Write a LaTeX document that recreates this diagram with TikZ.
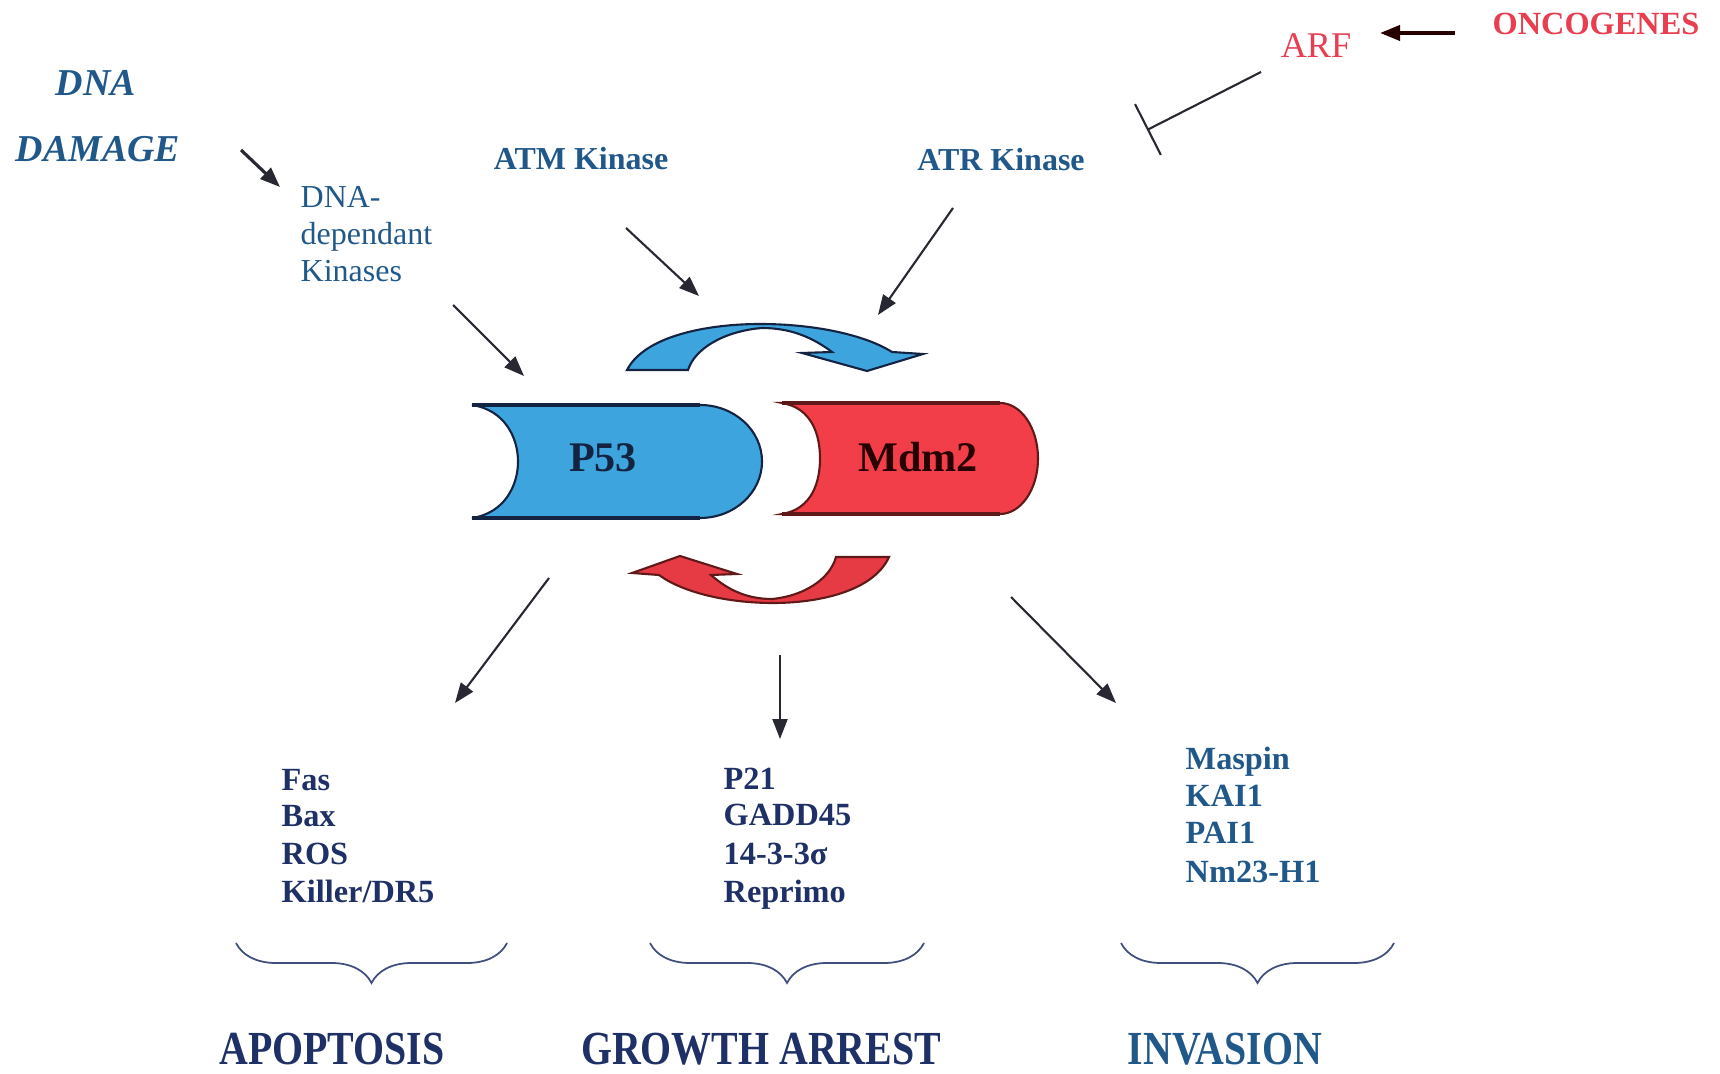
\documentclass[tikz,border=0pt]{standalone}
\usepackage{fontspec}
\setmainfont{Liberation Serif}
\newfontfamily\condfont[FakeStretch=0.84]{Liberation Serif}
\usetikzlibrary{arrows.meta,decorations.pathreplacing}

\definecolor{labblue}{RGB}{32,88,138}
\definecolor{navy}{RGB}{30,48,102}
\definecolor{arfred}{RGB}{232,62,80}
\definecolor{pblue}{RGB}{62,164,222}
\definecolor{mred}{RGB}{242,62,72}
\definecolor{pedge}{RGB}{20,35,65}
\definecolor{medge}{RGB}{95,25,25}
\definecolor{sigline}{RGB}{40,40,50}

\begin{document}
\begin{tikzpicture}[
      x=0.1mm, y=-0.1mm,
      lab/.style={text=labblue, inner sep=0pt, anchor=base,
                  font=\fontsize{9.1}{11}\selectfont\bfseries},
      dep/.style={text=labblue, inner sep=0pt, anchor=base west,
                  font=\fontsize{9.1}{11}\selectfont},
      gene/.style={text=navy, inner sep=0pt, anchor=base west,
                   font=\fontsize{9.2}{11}\selectfont\bfseries},
      fate/.style={text=navy, inner sep=0pt, anchor=base,
                   font=\condfont\fontsize{13.5}{15}\selectfont\bfseries},
      prot/.style={inner sep=0pt, anchor=base,
                   font=\fontsize{12}{14}\selectfont\bfseries},
      sig/.style={->, draw=sigline, line width=0.6pt},
      brc/.style={draw=navy!85, line width=0.5pt, decorate,
                  decoration={brace, amplitude=4mm}},
      >={Triangle[length=2mm,width=1.5mm]}
    ]
    \useasboundingbox (0,0) rectangle (1720,1074);

    % upstream signals
    \node[lab, font=\fontsize{10.8}{13}\selectfont\bfseries\itshape] (dna) at (96,96) {DNA};
    \node[lab, font=\fontsize{10.8}{13}\selectfont\bfseries\itshape] (damage) at (98,162) {DAMAGE};
    \foreach \t/\y [count=\i] in {DNA-/208, dependant/245, Kinases/282}
      \node[dep] (dep\i) at (300,\y) {\t};
    \node[lab] (atm) at (581,170) {ATM Kinase};
    \node[lab] (atr) at (1001,171) {ATR Kinase};
    \node[anchor=base, inner sep=0pt, text=arfred,
          font=\fontsize{10.3}{12}\selectfont] (arf) at (1316,58) {ARF};
    \node[anchor=base, inner sep=0pt, text=arfred,
          font=\fontsize{9.2}{11}\selectfont\bfseries] (onc) at (1596,35) {ONCOGENES};

    % p53 and mdm2
    \filldraw[fill=pblue, draw=pedge, line width=0.6pt] (472,405) -- (700,405)
      arc[start angle=90, end angle=-90, x radius=6.2mm, y radius=5.65mm] -- (472,518)
      .. controls (505,513) and (518,485) .. (518,461.5)
      .. controls (518,438) and (505,410) .. (472,405) -- cycle;
    \draw[pedge, line width=1pt] (472,405) -- (700,405) (472,518) -- (700,518);
    \filldraw[fill=mred, draw=medge, line width=0.6pt] (782,403) -- (1000,403)
      arc[start angle=90, end angle=-90, x radius=3.8mm, y radius=5.55mm] -- (782,514)
      .. controls (812,509) and (820,482) .. (820,458.5)
      .. controls (820,435) and (812,408) .. (782,403) -- cycle;
    \draw[medge, line width=1pt] (782,403) -- (1000,403) (782,514) -- (1000,514);
    \node[prot, text=pedge] (p53) at (603,472) {P53};
    \node[prot, text=black!85!red] (mdm2) at (918,472) {Mdm2};

    % feedback loop
    \filldraw[fill=pblue, draw=pedge, line width=0.6pt]
      (627,370) .. controls (645,335) and (710,324) .. (760,324)
      .. controls (815,324) and (865,335) .. (892,352)
      -- (923,354) -- (867,371) -- (802,353) -- (832,352)
      .. controls (812,337) and (790,328) .. (762,328)
      .. controls (725,331) and (695,348) .. (688,370) -- cycle;
    \filldraw[fill=mred!95!black, draw=medge, line width=0.6pt]
      (889,557) .. controls (873,592) and (817,603) .. (773,603)
      .. controls (726,603) and (682,592) .. (659,575)
      -- (632,573) -- (680,556) -- (737,574) -- (711,575)
      .. controls (728,590) and (747,599) .. (772,599)
      .. controls (804,596) and (830,579) .. (836,557) -- cycle;

    % arrow ends
    \coordinate (dmgS) at (241,150);   \coordinate (dmgE) at (280,187);
    \coordinate (depS) at (453,305);   \coordinate (depE) at (524,376);
    \coordinate (atmS) at (626,228);   \coordinate (atmE) at (699,296);
    \coordinate (atrS) at (953,208);   \coordinate (atrE) at (878,315);
    \coordinate (oncS) at (1455,33);   \coordinate (oncE) at (1380,33);
    \coordinate (arfS) at (1261,72);   \coordinate (arfE) at (1147,130);
    \coordinate (apoS) at (549,578);   \coordinate (apoE) at (455,703);
    \coordinate (groS) at (780,655);   \coordinate (groE) at (780,739);
    \coordinate (invS) at (1011,597);  \coordinate (invE) at (1116,703);

    \draw[sig, line width=0.9pt] (dmgS) -- (dmgE);
    \draw[sig] (depS) -- (depE);
    \draw[sig] (atmS) -- (atmE);
    \draw[sig] (atrS) -- (atrE);
    \draw[sig, line width=1.1pt, draw=black!85!red] (oncS) -- (oncE);
    \draw[draw=sigline, line width=0.6pt, -{Bar[width=5.7mm]}] (arfS) -- (arfE);
    \draw[sig] (apoS) -- (apoE);
    \draw[sig] (groS) -- (groE);
    \draw[sig] (invS) -- (invE);

    % target genes
    \foreach \t/\y [count=\i] in {Fas/790, Bax/826, ROS/864, {Killer/DR5}/902}
      \node[gene] (apo\i) at (281,\y) {\t};
    \foreach \t/\y [count=\i] in {P21/789, GADD45/825, 14-3-3σ/864, Reprimo/902}
      \node[gene] (gro\i) at (723,\y) {\t};
    \foreach \t/\y [count=\i] in {Maspin/769, KAI1/806, PAI1/843, Nm23-H1/882}
      \node[gene, text=labblue] (inv\i) at (1185,\y) {\t};

    % braces and outcomes
    \foreach \l/\r in {236/507, 650/924, 1121/1394}
      \draw[brc] (\r,943) -- (\l,943);
    \node[fate] (apop) at (332,1064) {APOPTOSIS};
    \node[fate] (arrest) at (761,1064) {GROWTH ARREST};
    \node[fate, text=labblue] (invasion) at (1225,1064) {INVASION};
  \end{tikzpicture}
\end{document}
